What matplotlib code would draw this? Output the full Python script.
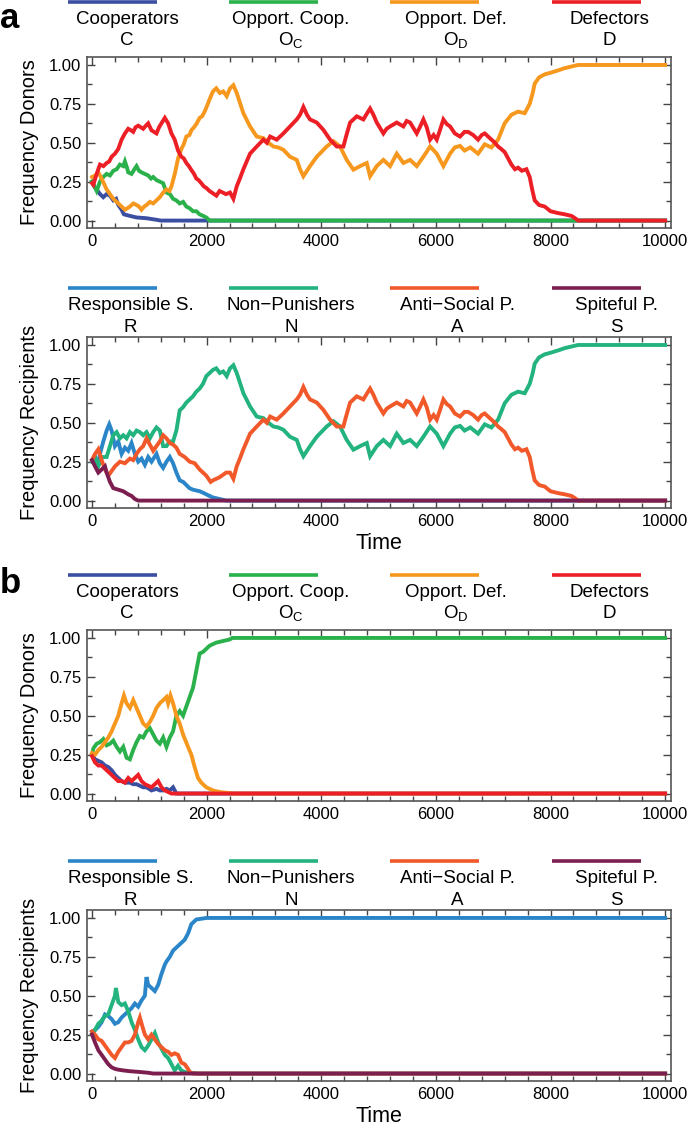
import numpy as np
import matplotlib
matplotlib.use("Agg")
import matplotlib.pyplot as plt
from matplotlib.ticker import MultipleLocator, FormatStrFormatter

plt.rcParams['font.family'] = ['Liberation Sans', 'DejaVu Sans']
plt.rcParams['mathtext.fontset'] = 'custom'
plt.rcParams['mathtext.rm'] = 'Liberation Sans'

# ---- data: (time, frequency) pairs ----
# panel a, donors
a_C = [(0, .25), (23, .23), (80, .20), (140, .17), (197, .15), (255, .17), (313, .16), (371, .13),
       (420, .14), (458, .10), (516, .07), (557, .04), (610, .035), (661, .03), (777, .02), (951, .015),
       (1125, .005), (1200, 0), (10000, 0)]
a_Oc = [(0, .25), (40, .22), (81, .19), (139, .25), (197, .28), (255, .30), (313, .29), (371, .32),
        (430, .33), (487, .36), (545, .35), (574, .38), (610, .34), (632, .31), (690, .30), (740, .33),
        (777, .35), (820, .32), (864, .31), (920, .30), (980, .29), (1030, .27), (1067, .28), (1125, .26),
        (1183, .25), (1241, .24), (1299, .18), (1360, .17), (1414, .14), (1470, .13), (1530, .11),
        (1590, .12), (1646, .09), (1700, .08), (1762, .06), (1820, .06), (1878, .04), (1940, .03),
        (1994, .02), (2052, 0), (10000, 0)]
a_Od = [(0, .28), (60, .29), (110, .31), (168, .27), (255, .20), (313, .17), (371, .14), (430, .12),
        (487, .10), (545, .08), (574, .07), (620, .08), (661, .09), (720, .11), (777, .10), (820, .09),
        (864, .07), (910, .09), (951, .10), (1010, .12), (1067, .11), (1125, .13), (1183, .15), (1241, .18),
        (1299, .20), (1350, .19), (1386, .22), (1444, .30), (1502, .40), (1559, .46), (1600, .49),
        (1646, .54), (1700, .55), (1733, .58), (1780, .60), (1820, .62), (1878, .66), (1920, .67),
        (1965, .70), (2010, .74), (2052, .78), (2110, .83), (2168, .85), (2230, .82), (2290, .83),
        (2350, .80), (2408, .85), (2467, .87), (2525, .82), (2641, .69), (2757, .605), (2874, .54),
        (2990, .53), (3080, .50), (3165, .476), (3250, .47), (3339, .455), (3455, .41), (3572, .39),
        (3630, .33), (3688, .285), (3804, .35), (3921, .41), (4000, .44), (4095, .476), (4212, .51),
        (4328, .476), (4444, .39), (4561, .327), (4677, .35), (4794, .37), (4852, .285), (4968, .35),
        (5084, .39), (5201, .35), (5317, .43), (5433, .37), (5550, .39), (5666, .35), (5782, .41),
        (5899, .476), (6015, .43), (6131, .35), (6248, .43), (6330, .47), (6422, .48), (6500, .45),
        (6600, .47), (6736, .43), (6852, .49), (6969, .47), (7085, .52), (7201, .626), (7318, .68),
        (7434, .70), (7550, .69), (7637, .75), (7690, .82), (7724, .88), (7800, .92), (7899, .94),
        (8000, .95), (8132, .965), (8250, .98), (8365, .99), (8481, 1.0), (10000, 1.0)]
a_D = [(0, .24), (23, .23), (81, .30), (139, .36), (200, .35), (255, .37), (300, .38), (342, .41),
       (400, .43), (458, .46), (516, .52), (574, .56), (632, .59), (680, .58), (719, .57), (760, .60),
       (806, .61), (850, .60), (893, .59), (940, .61), (980, .625), (1038, .58), (1080, .57), (1125, .56),
       (1170, .60), (1212, .625), (1270, .66), (1328, .625), (1386, .56), (1443, .52), (1501, .45),
       (1559, .41), (1600, .40), (1646, .37), (1690, .35), (1733, .325), (1780, .30), (1820, .27),
       (1860, .26), (1907, .24), (1950, .22), (1994, .21), (2050, .19), (2110, .175), (2170, .16),
       (2226, .19), (2280, .18), (2337, .17), (2408, .18), (2467, .14), (2525, .22), (2580, .27),
       (2641, .33), (2700, .38), (2757, .43), (2874, .476), (2990, .52), (3050, .50), (3107, .54),
       (3223, .52), (3339, .56), (3455, .605), (3572, .65), (3630, .68), (3688, .73), (3750, .68),
       (3804, .65), (3921, .63), (4037, .583), (4154, .52), (4270, .476), (4386, .476), (4440, .55),
       (4503, .63), (4619, .67), (4735, .65), (4800, .69), (4852, .72), (4910, .68), (4968, .63),
       (5084, .56), (5140, .59), (5201, .605), (5317, .63), (5433, .605), (5490, .64), (5550, .63),
       (5666, .56), (5720, .60), (5782, .65), (5840, .60), (5899, .52), (5960, .55), (6015, .52),
       (6070, .58), (6131, .65), (6190, .62), (6248, .605), (6330, .56), (6422, .54), (6500, .57),
       (6562, .57), (6650, .55), (6736, .52), (6800, .55), (6852, .56), (6969, .52), (7030, .50),
       (7085, .476), (7140, .46), (7201, .44), (7260, .40), (7318, .36), (7380, .33), (7434, .34),
       (7500, .32), (7580, .33), (7637, .28), (7680, .20), (7724, .13), (7800, .10), (7899, .09),
       (8000, .06), (8132, .048), (8250, .04), (8365, .03), (8430, .015), (8481, 0), (10000, 0)]

# panel a, recipients (N and A run with O_D and D after t ~ 2400)
a_R = [(0, .25), (52, .28), (93, .22), (139, .30), (197, .38), (255, .45), (301, .49), (342, .45),
       (400, .35), (458, .38), (516, .30), (574, .34), (632, .32), (690, .37), (748, .30), (806, .25),
       (864, .27), (922, .23), (980, .28), (1038, .25), (1125, .30), (1183, .24), (1241, .21),
       (1299, .25), (1357, .28), (1414, .24), (1472, .18), (1530, .13), (1590, .12), (1646, .10),
       (1700, .08), (1762, .07), (1820, .065), (1878, .06), (1940, .05), (1994, .04), (2050, .03),
       (2110, .02), (2226, .01), (2342, 0), (10000, 0)]
a_N_early = [(0, .25), (52, .28), (110, .22), (168, .28), (255, .28), (313, .35), (371, .42), (429, .44),
             (487, .40), (545, .42), (603, .40), (661, .44), (719, .42), (777, .45), (835, .44), (893, .42),
             (951, .44), (1009, .40), (1067, .44), (1125, .47), (1183, .45), (1241, .35), (1299, .35),
             (1357, .38), (1414, .38), (1472, .45), (1530, .58), (1588, .60), (1646, .63), (1704, .65),
             (1762, .67), (1820, .70), (1878, .72), (1936, .75), (1994, .80), (2052, .82), (2110, .84),
             (2168, .85), (2230, .82), (2290, .83), (2350, .80)]
a_A_early = [(0, .26), (52, .30), (110, .33), (168, .26), (226, .20), (284, .16), (342, .19), (400, .22),
             (487, .25), (574, .24), (661, .27), (719, .26), (777, .30), (835, .33), (893, .35), (951, .40),
             (1009, .36), (1067, .32), (1125, .35), (1183, .38), (1241, .42), (1299, .40), (1357, .37),
             (1414, .36), (1472, .34), (1530, .30), (1617, .28), (1704, .25), (1791, .24), (1878, .20),
             (1994, .16), (2069, .12), (2110, .13), (2226, .15), (2342, .18)]
a_N = a_N_early + [p for p in a_Od if p[0] >= 2408]
a_A = a_A_early + [p for p in a_D if p[0] >= 2408]
a_S = [(0, .26), (52, .22), (110, .18), (168, .20), (226, .22), (255, .18), (313, .12), (371, .08),
       (458, .07), (545, .06), (632, .04), (690, .03), (748, .01), (806, 0), (10000, 0)]

# panel b, donors
b_C = [(0, .25), (52, .22), (110, .21), (168, .20), (226, .18), (284, .17), (342, .15), (400, .12),
       (458, .10), (516, .08), (574, .07), (661, .07), (719, .06), (777, .06), (835, .05), (893, .04),
       (951, .04), (1038, .02), (1125, .03), (1183, .02), (1241, .02), (1299, .03), (1357, .02),
       (1414, .04), (1472, 0), (10000, 0)]
b_Oc = [(0, .25), (23, .29), (81, .32), (139, .33), (197, .35), (255, .31), (313, .32), (371, .34),
        (429, .30), (487, .27), (545, .30), (603, .23), (661, .22), (719, .28), (777, .33), (835, .37),
        (893, .36), (951, .40), (1009, .42), (1067, .38), (1125, .34), (1183, .32), (1241, .36),
        (1299, .30), (1357, .36), (1414, .40), (1472, .50), (1530, .53), (1588, .50), (1646, .56),
        (1704, .62), (1762, .68), (1820, .79), (1878, .90), (1936, .91), (1994, .93), (2052, .95),
        (2168, .97), (2284, .98), (2400, .99), (2450, 1.0), (10000, 1.0)]
b_Od = [(0, .26), (52, .25), (110, .28), (168, .30), (226, .33), (284, .36), (342, .40), (400, .45),
        (458, .50), (516, .58), (557, .63), (603, .58), (661, .55), (719, .60), (777, .55), (835, .50),
        (893, .45), (951, .43), (1009, .46), (1067, .50), (1125, .55), (1183, .58), (1241, .60),
        (1299, .62), (1328, .58), (1368, .63), (1414, .58), (1472, .50), (1530, .45), (1588, .38),
        (1675, .30), (1733, .25), (1791, .17), (1849, .10), (1907, .07), (1994, .04), (2110, .02),
        (2226, .01), (2342, .005), (2458, 0), (10000, 0)]
b_D = [(0, .24), (52, .20), (110, .18), (168, .18), (226, .16), (284, .14), (342, .12), (400, .10),
       (458, .08), (516, .08), (574, .07), (632, .10), (690, .08), (748, .10), (806, .12), (864, .08),
       (922, .06), (980, .05), (1038, .04), (1096, .06), (1154, .08), (1212, .04), (1270, .02),
       (1328, .01), (1386, 0), (10000, 0)]

# panel b, recipients
b_R = [(0, .27), (52, .28), (110, .30), (168, .33), (226, .38), (284, .37), (342, .35), (400, .32),
       (458, .33), (516, .36), (574, .38), (632, .40), (690, .42), (748, .45), (806, .43), (864, .47),
       (922, .50), (951, .62), (980, .57), (1038, .55), (1096, .53), (1154, .57), (1212, .64),
       (1270, .70), (1299, .72), (1357, .75), (1414, .79), (1472, .81), (1530, .83), (1617, .86),
       (1675, .90), (1733, .96), (1820, .99), (1994, 1.0), (10000, 1.0)]
b_N = [(0, .25), (52, .28), (110, .32), (168, .34), (226, .37), (284, .38), (342, .44), (400, .50),
       (417, .55), (458, .46), (516, .44), (574, .45), (632, .40), (690, .33), (748, .28), (806, .22),
       (864, .17), (922, .15), (980, .18), (1038, .22), (1096, .26), (1154, .20), (1212, .16),
       (1270, .12), (1328, .10), (1386, .06), (1443, .02), (1501, .05), (1559, .02), (1617, .01),
       (1733, .005), (1849, 0), (10000, 0)]
b_A = [(0, .27), (52, .25), (110, .22), (168, .21), (226, .18), (284, .15), (342, .12), (400, .10),
       (458, .14), (516, .17), (574, .20), (632, .20), (690, .21), (748, .25), (806, .33), (835, .36),
       (881, .30), (922, .25), (980, .22), (1038, .25), (1096, .22), (1154, .19), (1212, .17),
       (1270, .15), (1328, .14), (1386, .12), (1443, .13), (1501, .12), (1559, .07), (1617, .06),
       (1675, .03), (1704, .01), (1762, 0), (10000, 0)]
b_S = [(0, .25), (52, .20), (110, .15), (168, .12), (226, .09), (284, .06), (342, .04), (400, .03),
       (458, .025), (545, .02), (661, .015), (835, .01), (980, .005), (1067, 0), (10000, 0)]

donor_names = ['Cooperators', 'Opport. Coop.', 'Opport. Def.', 'Defectors']
donor_syms = ['C', r'$\mathrm{O_C}$', r'$\mathrm{O_D}$', 'D']
donor_colors = ['#3b4fa2', '#2bb14b', '#f7981e', '#ec1f26']
recip_names = ['Responsible S.', 'Non\u2212Punishers', 'Anti\u2212Social P.', 'Spiteful P.']
recip_syms = ['R', 'N', 'A', 'S']
recip_colors = ['#2a86c8', '#22b37f', '#f1582a', '#7c1f50']

fig = plt.figure(figsize=(6.88, 11.25), dpi=100)
L, W, H = 0.1265, 0.849, 0.152
bottoms = [0.7973, 0.5484, 0.2880, 0.0391]

line_x = [(-0.0325, 0.1199), (0.243, 0.3955), (0.519, 0.671), (0.796, 0.9486)]


def setup(ax, ylabel, time_label):
    ax.set_xlim(-87, 10105)
    ax.set_ylim(-0.048, 1.051)
    ax.xaxis.set_major_locator(MultipleLocator(2000))
    ax.xaxis.set_minor_locator(MultipleLocator(400))
    ax.yaxis.set_major_locator(MultipleLocator(0.25))
    ax.yaxis.set_minor_locator(MultipleLocator(0.125))
    ax.yaxis.set_major_formatter(FormatStrFormatter('%.2f'))
    ax.tick_params(which='both', direction='in', top=True, right=True, color='#444444',
                   labelsize=12, pad=4)
    ax.tick_params(which='major', length=6, width=1.0)
    ax.tick_params(which='minor', length=3.5, width=1.0)
    for s in ax.spines.values():
        s.set_color('#555555')
        s.set_linewidth(1.2)
    ax.set_ylabel(ylabel, fontsize=14.5)
    ax.yaxis.set_label_coords(-0.082, 0.5)
    if time_label:
        ax.set_xlabel('Time', fontsize=15.5)
        ax.xaxis.set_label_coords(0.5, -0.145)


def key(ax, names, syms, colors, text_x, y_line, y_t1, y_t2):
    for (x0, x1), nm, sy, c, tx in zip(line_x, names, syms, colors, text_x):
        ax.plot([x0, x1], [y_line, y_line], color=c, lw=2.6, transform=ax.transAxes,
                clip_on=False, solid_capstyle='butt')
        ax.text(tx, y_t1, nm, transform=ax.transAxes, ha='center', va='baseline', fontsize=13.5)
        ax.text(tx, y_t2, sy, transform=ax.transAxes, ha='center', va='baseline', fontsize=13.5)


panels = [
    ([a_C, a_Oc, a_Od, a_D], donor_colors, 'Frequency Donors', False),
    ([a_R, a_N, a_A, a_S], recip_colors, 'Frequency Recipients', True),
    ([b_C, b_Oc, b_Od, b_D], donor_colors, 'Frequency Donors', False),
    ([b_R, b_N, b_A, b_S], recip_colors, 'Frequency Recipients', True),
]

for i, (series, colors, ylab, tl) in enumerate(panels):
    ax = fig.add_axes([L, bottoms[i], W, H])
    for s, c in zip(series, colors):
        arr = np.array(s)
        ax.plot(arr[:, 0], arr[:, 1], color=c, lw=2.8, solid_joinstyle='miter')
    setup(ax, ylab, tl)
    if i % 2 == 0:
        key(ax, donor_names, donor_syms, donor_colors, [0.0685, 0.349, 0.632, 0.894],
            1.322, 1.193, 1.07)
    else:
        key(ax, recip_names, recip_syms, recip_colors, [0.0745, 0.349, 0.634, 0.906],
            1.287, 1.158, 1.032)

fig.text(0.0, 0.975, 'a', fontsize=25, fontweight='bold', va='baseline', ha='left')
fig.text(0.0, 0.473, 'b', fontsize=25, fontweight='bold', va='baseline', ha='left')

fig.savefig('out.png', dpi=100)
